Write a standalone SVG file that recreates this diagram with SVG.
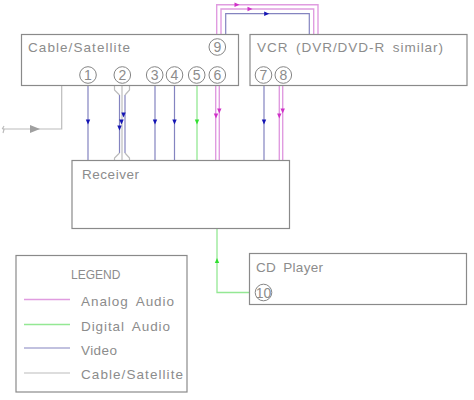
<svg xmlns="http://www.w3.org/2000/svg" width="474" height="400" viewBox="0 0 474 400">
<style>
.box{fill:#fff;stroke:#8a8a8a;stroke-width:1.2}
.t{font-family:"Liberation Sans",Arial,sans-serif;font-size:13.5px;fill:#8c8c8c;word-spacing:3px}
.n{font-family:"Liberation Sans",Arial,sans-serif;font-size:14px;fill:#8c8c8c;text-anchor:middle}
.c{fill:#fff;stroke:#858585;stroke-width:1}
.w{fill:none}
.v{stroke:#8484c0;stroke-width:1.2}
.a{stroke:#e09ce0;stroke-width:1.4}
.d{stroke:#94e894;stroke-width:1.3}
.s{stroke:#bcbcbc;stroke-width:1.2}
.hv{fill:#1414b4}.ha{fill:#d030c8}.hd{fill:#30e030}.hs{fill:#a0a0a0}
</style>
<defs>
<path id="ad" d="M-2.200-2.500H2.200L0 2.500Z"/>
<path id="ar" d="M-2.500-2.200V2.200L2.500 0Z"/>
</defs>
<g id="connectors">
<g class="w">
<path class="s" d="M61.700 86V129H3"/>
<path class="s" d="M4 126l-1.500 2.500 1.500 1-1 3.500"/>
<path class="v" d="M88 86V160M155 86V160M174.500 86V160M264 85V160"/>
<path class="a" d="M215.700 86V160M219.300 86V160M279.300 85V160M282.700 85V160"/>
<path class="d" d="M197 86V160"/>
<path class="v" d="M119.500 95V153"/>
<path class="v" d="M125 95V153"/>
<path class="s" d="M122 86V160"/>
<path class="s" d="M114.500 86V90L119.500 95M129.500 86V90L125 95M114.500 160V158L119.500 153M129.500 160V158L125 153"/>
<path class="a" d="M216.700 34V4.700H318V34M221 34V9H313.700V34"/>
<path class="v" d="M225.700 34V13.700H309.300V34"/>
<path class="d" d="M217 229V292.500H250"/>
</g>
<g class="hv">
<use href="#ad" x="88" y="122"/><use href="#ad" x="155" y="122"/><use href="#ad" x="174.500" y="122"/><use href="#ad" x="264" y="122"/>
<use href="#ad" x="123.500" y="115"/><use href="#ad" x="121.500" y="122"/><use href="#ad" x="119.500" y="128"/>
<use href="#ar" x="266.700" y="13.700"/>
</g>
<g class="ha">
<use href="#ad" x="216" y="116"/><use href="#ad" x="219.300" y="111"/><use href="#ad" x="279.300" y="116"/><use href="#ad" x="282.700" y="111"/>
<use href="#ar" x="237" y="4.700"/><use href="#ar" x="250" y="9"/>
</g>
<g class="hd">
<use href="#ad" x="197" y="122"/><path d="M217 258l-2.200 5H219.200Z"/>
</g>
<path class="hs" d="M30 125L40 129L30 133Z"/>
</g>
<g id="cable-satellite">
<rect class="box" x="21.500" y="34.500" width="217" height="51"/>
<text class="t" x="28" y="52" textLength="102">Cable/Satellite</text>
<circle class="c" cx="88" cy="75" r="8.300"/><text class="n" x="88" y="80">1</text>
<circle class="c" cx="122.300" cy="75" r="8.300"/><text class="n" x="122.300" y="80">2</text>
<circle class="c" cx="154.700" cy="75" r="8.300"/><text class="n" x="154.700" y="80">3</text>
<circle class="c" cx="174.500" cy="75" r="8.300"/><text class="n" x="174.500" y="80">4</text>
<circle class="c" cx="196.700" cy="75" r="8.300"/><text class="n" x="196.700" y="80">5</text>
<circle class="c" cx="217.300" cy="75" r="8.300"/><text class="n" x="217.300" y="80">6</text>
<circle class="c" cx="217.300" cy="47" r="8.300"/><text class="n" x="217.300" y="52">9</text>
</g>
<g id="vcr">
<rect class="box" x="250" y="34.500" width="217" height="51"/>
<text class="t" x="257" y="52" textLength="186">VCR (DVR/DVD-R similar)</text>
<circle class="c" cx="263.500" cy="75" r="8.300"/><text class="n" x="263.500" y="80">7</text>
<circle class="c" cx="283.300" cy="75" r="8.300"/><text class="n" x="283.300" y="80">8</text>
</g>
<g id="receiver">
<rect class="box" x="72" y="160.500" width="217.500" height="68"/>
<text class="t" x="82" y="179" textLength="57">Receiver</text>
</g>
<g id="cd-player">
<rect class="box" x="249.500" y="253.500" width="217" height="51"/>
<text class="t" x="256" y="272" textLength="67">CD Player</text>
<circle class="c" cx="263.500" cy="292.500" r="8.300"/><text class="n" x="263.500" y="297.500">10</text>
</g>
<g id="legend">
<rect class="box" x="16" y="255.500" width="171" height="136.500"/>
<text class="t" x="71" y="279" style="font-size:12px">LEGEND</text>
<path class="a" d="M24 299.500H70"/><text class="t" x="81" y="306" textLength="93">Analog Audio</text>
<path class="d" d="M24 324.500H70"/><text class="t" x="81" y="331" textLength="89">Digital Audio</text>
<path class="v" d="M24 348H70"/><text class="t" x="81" y="355" textLength="36">Video</text>
<path class="s" d="M24 373H70"/><text class="t" x="81" y="379" textLength="102">Cable/Satellite</text>
</g>
</svg>
